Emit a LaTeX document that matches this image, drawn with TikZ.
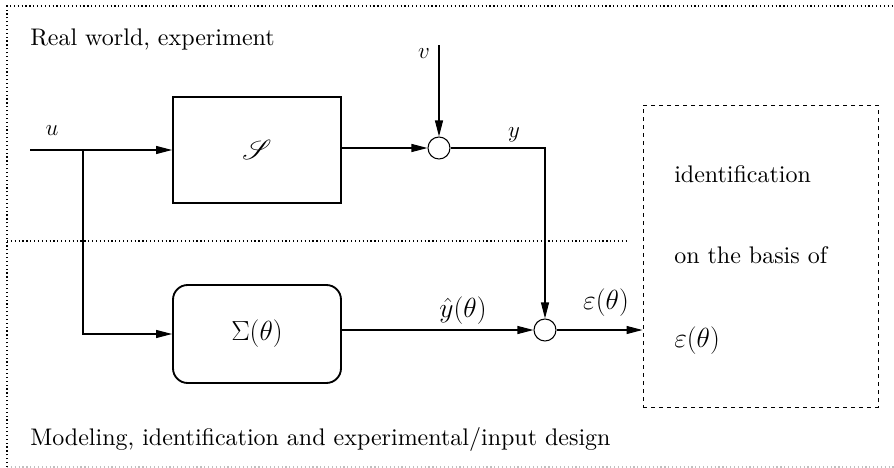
\documentclass[tikz,border=0pt]{standalone}
\usepackage{fontspec}
\setmainfont{lmroman10-regular.otf}[BoldFont=lmroman10-bold.otf, ItalicFont=lmroman10-italic.otf]
\usepackage{mathrsfs}
\usetikzlibrary{arrows.meta}
\begin{document}
\begin{tikzpicture}[x=0.75pt,y=-0.75pt,
  blk/.style={draw, line width=1.4pt, minimum width=126pt, minimum height=79.5pt, inner sep=0pt, font=\fontsize{21}{25}\selectfont},
  sumnode/.style={draw, circle, line width=0.8pt, minimum size=16.5pt, inner sep=0pt},
  arr/.style={-{Triangle[length=12pt,width=6pt]}, line width=0.8pt},
  lbl/.style={font=\fontsize{18}{22}\selectfont, inner sep=0pt},
  slbl/.style={font=\fontsize{19}{23}\selectfont, inner sep=0pt},
  mlbl/.style={font=\fontsize{21}{25}\selectfont, inner sep=0pt},
  frame/.style={dotted, line width=0.9pt}]
\useasboundingbox (0,0) rectangle (894,468);
% frame
\draw[frame, gray!50] (7,467) -- (894,467);
\draw[frame] (7,467) -- (7,6) -- (894,6);
\draw[frame] (7,241) -- (628,241);
% blocks
\node[blk] (S) at (257,150) {$\mathscr{S}$};
\node[blk, rounded corners=11pt, minimum height=73.5pt] (Sig) at (257,334) {$\Sigma(\theta)$};
\node[sumnode] (c1) at (439,148) {};
\node[sumnode] (c2) at (545,330) {};
\node[draw, dashed, line width=0.75pt, minimum width=176.25pt, minimum height=226.5pt] (id) at (760.5,256) {};
% points
\coordinate (uin) at (30,150);
\coordinate (br) at (83,150);
\coordinate (vtop) at (439,45);
% connectors
\draw[arr] (uin) -- (S.west);
\draw[arr] (S.east |- c1) -- (c1.west);
\draw[arr] (vtop) -- (c1.north);
\draw[arr] (c1.east) -| (c2.north);
\draw[arr] (br) |- (Sig.west);
\draw[arr] (Sig.east |- c2) -- (c2.west);
\draw[arr] (c2.east) -- (id.west |- c2);
% labels
\node[slbl, anchor=base] (lu) at (52,135) {$u$};
\node[slbl, anchor=base] (lv) at (424,58) {$v$};
\node[slbl, anchor=base] (ly) at (514,137) {$y$};
\node[mlbl, anchor=base] (lyh) at (463,317) {$\hat{y}(\theta)$};
\node[mlbl, anchor=base] (le) at (606,309) {$\varepsilon(\theta)$};
% texts
\node[lbl, anchor=base west] (t1) at (30,45) {Real world, experiment};
\node[lbl, anchor=base west] (t2) at (30,445) {Modeling, identification and experimental/input design};
\node[lbl, anchor=base west] (t3) at (674,182) {identification};
\node[lbl, anchor=base west] (t4) at (674,263) {on the basis of};
\node[mlbl, anchor=base west] (t5) at (674,347) {$\varepsilon(\theta)$};
\end{tikzpicture}
\end{document}
